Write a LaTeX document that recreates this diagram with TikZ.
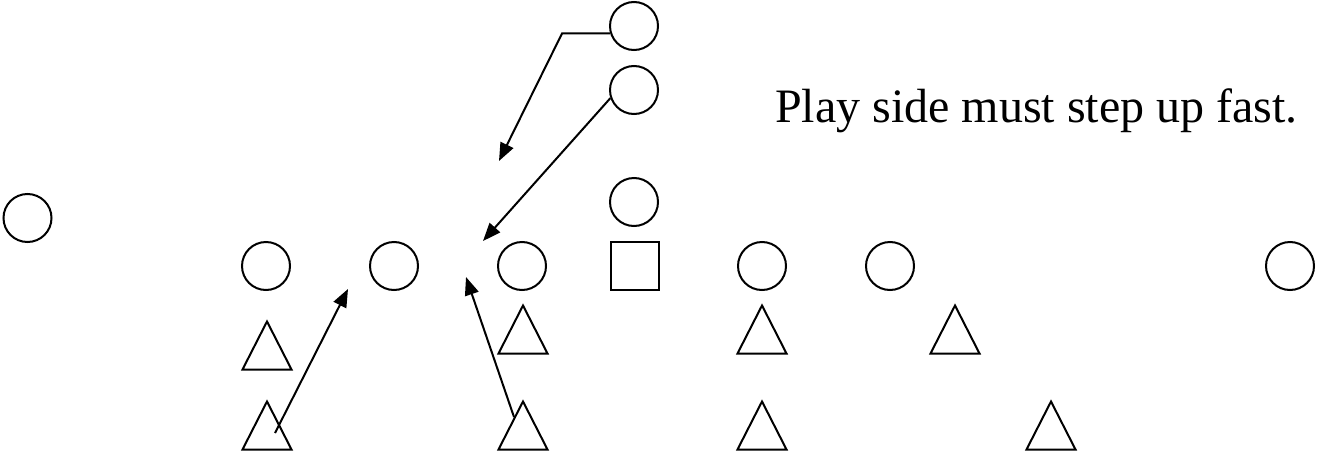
\documentclass[tikz,border=0pt]{standalone}
\usepackage{fontspec}
\setmainfont{Liberation Serif}
\usetikzlibrary{arrows.meta}
\begin{document}
\begin{tikzpicture}[x=1pt,y=-1pt,line width=2pt,
  player/.style={circle,draw,minimum size=48pt,inner sep=0pt},
  centerbox/.style={rectangle,draw,minimum size=48pt,inner sep=0pt},
  run/.style={-{Triangle[length=18pt,width=14pt]},line width=2pt},
  tri/.pic={\draw (-24.5,24) -- (0,-24) -- (24.5,24) -- cycle;}]
\useasboundingbox (0,0) rectangle (1319,455);

% offense: backfield, centre and line
\node[player] (p1) at (634,26) {};
\node[player] (p2) at (634,90) {};
\node[player] (p3) at (634,202) {};
\node[player] (wide) at (27.5,218) {};
\node[player] (l1) at (266,266) {};
\node[player] (l2) at (394,266) {};
\node[player] (l3) at (522,266) {};
\node[centerbox] (c) at (635,266) {};
\node[player] (r1) at (762,266) {};
\node[player] (r2) at (890,266) {};
\node[player] (r3) at (1290,266) {};

% defense: front row and second row
\pic at (267,345.5) {tri};
\pic at (523,329.5) {tri};
\pic at (762,329.5) {tri};
\pic at (955,329.5) {tri};
\pic at (267,425.5) {tri};
\pic at (523,425.5) {tri};
\pic at (762,425.5) {tri};
\pic at (1051,425.5) {tri};

% run paths
\coordinate (t1) at (499,161);
\coordinate (t2) at (483,241);
\coordinate (s3) at (275,433);
\coordinate (t3) at (348,289);
\coordinate (s4) at (514,417);
\coordinate (t4) at (466,277);

\draw[run] (p1.197) -- ++(-48,0) -- (t1);
\draw[run] (p2.199) -- (t2);
\draw[run] (s3) -- (t3);
\draw[run] (s4) -- (t4);

\node[anchor=base west,inner sep=0pt,font=\fontsize{48}{58}\selectfont] (note) at (774,122) {Play side must step up fast.};
\end{tikzpicture}
\end{document}
